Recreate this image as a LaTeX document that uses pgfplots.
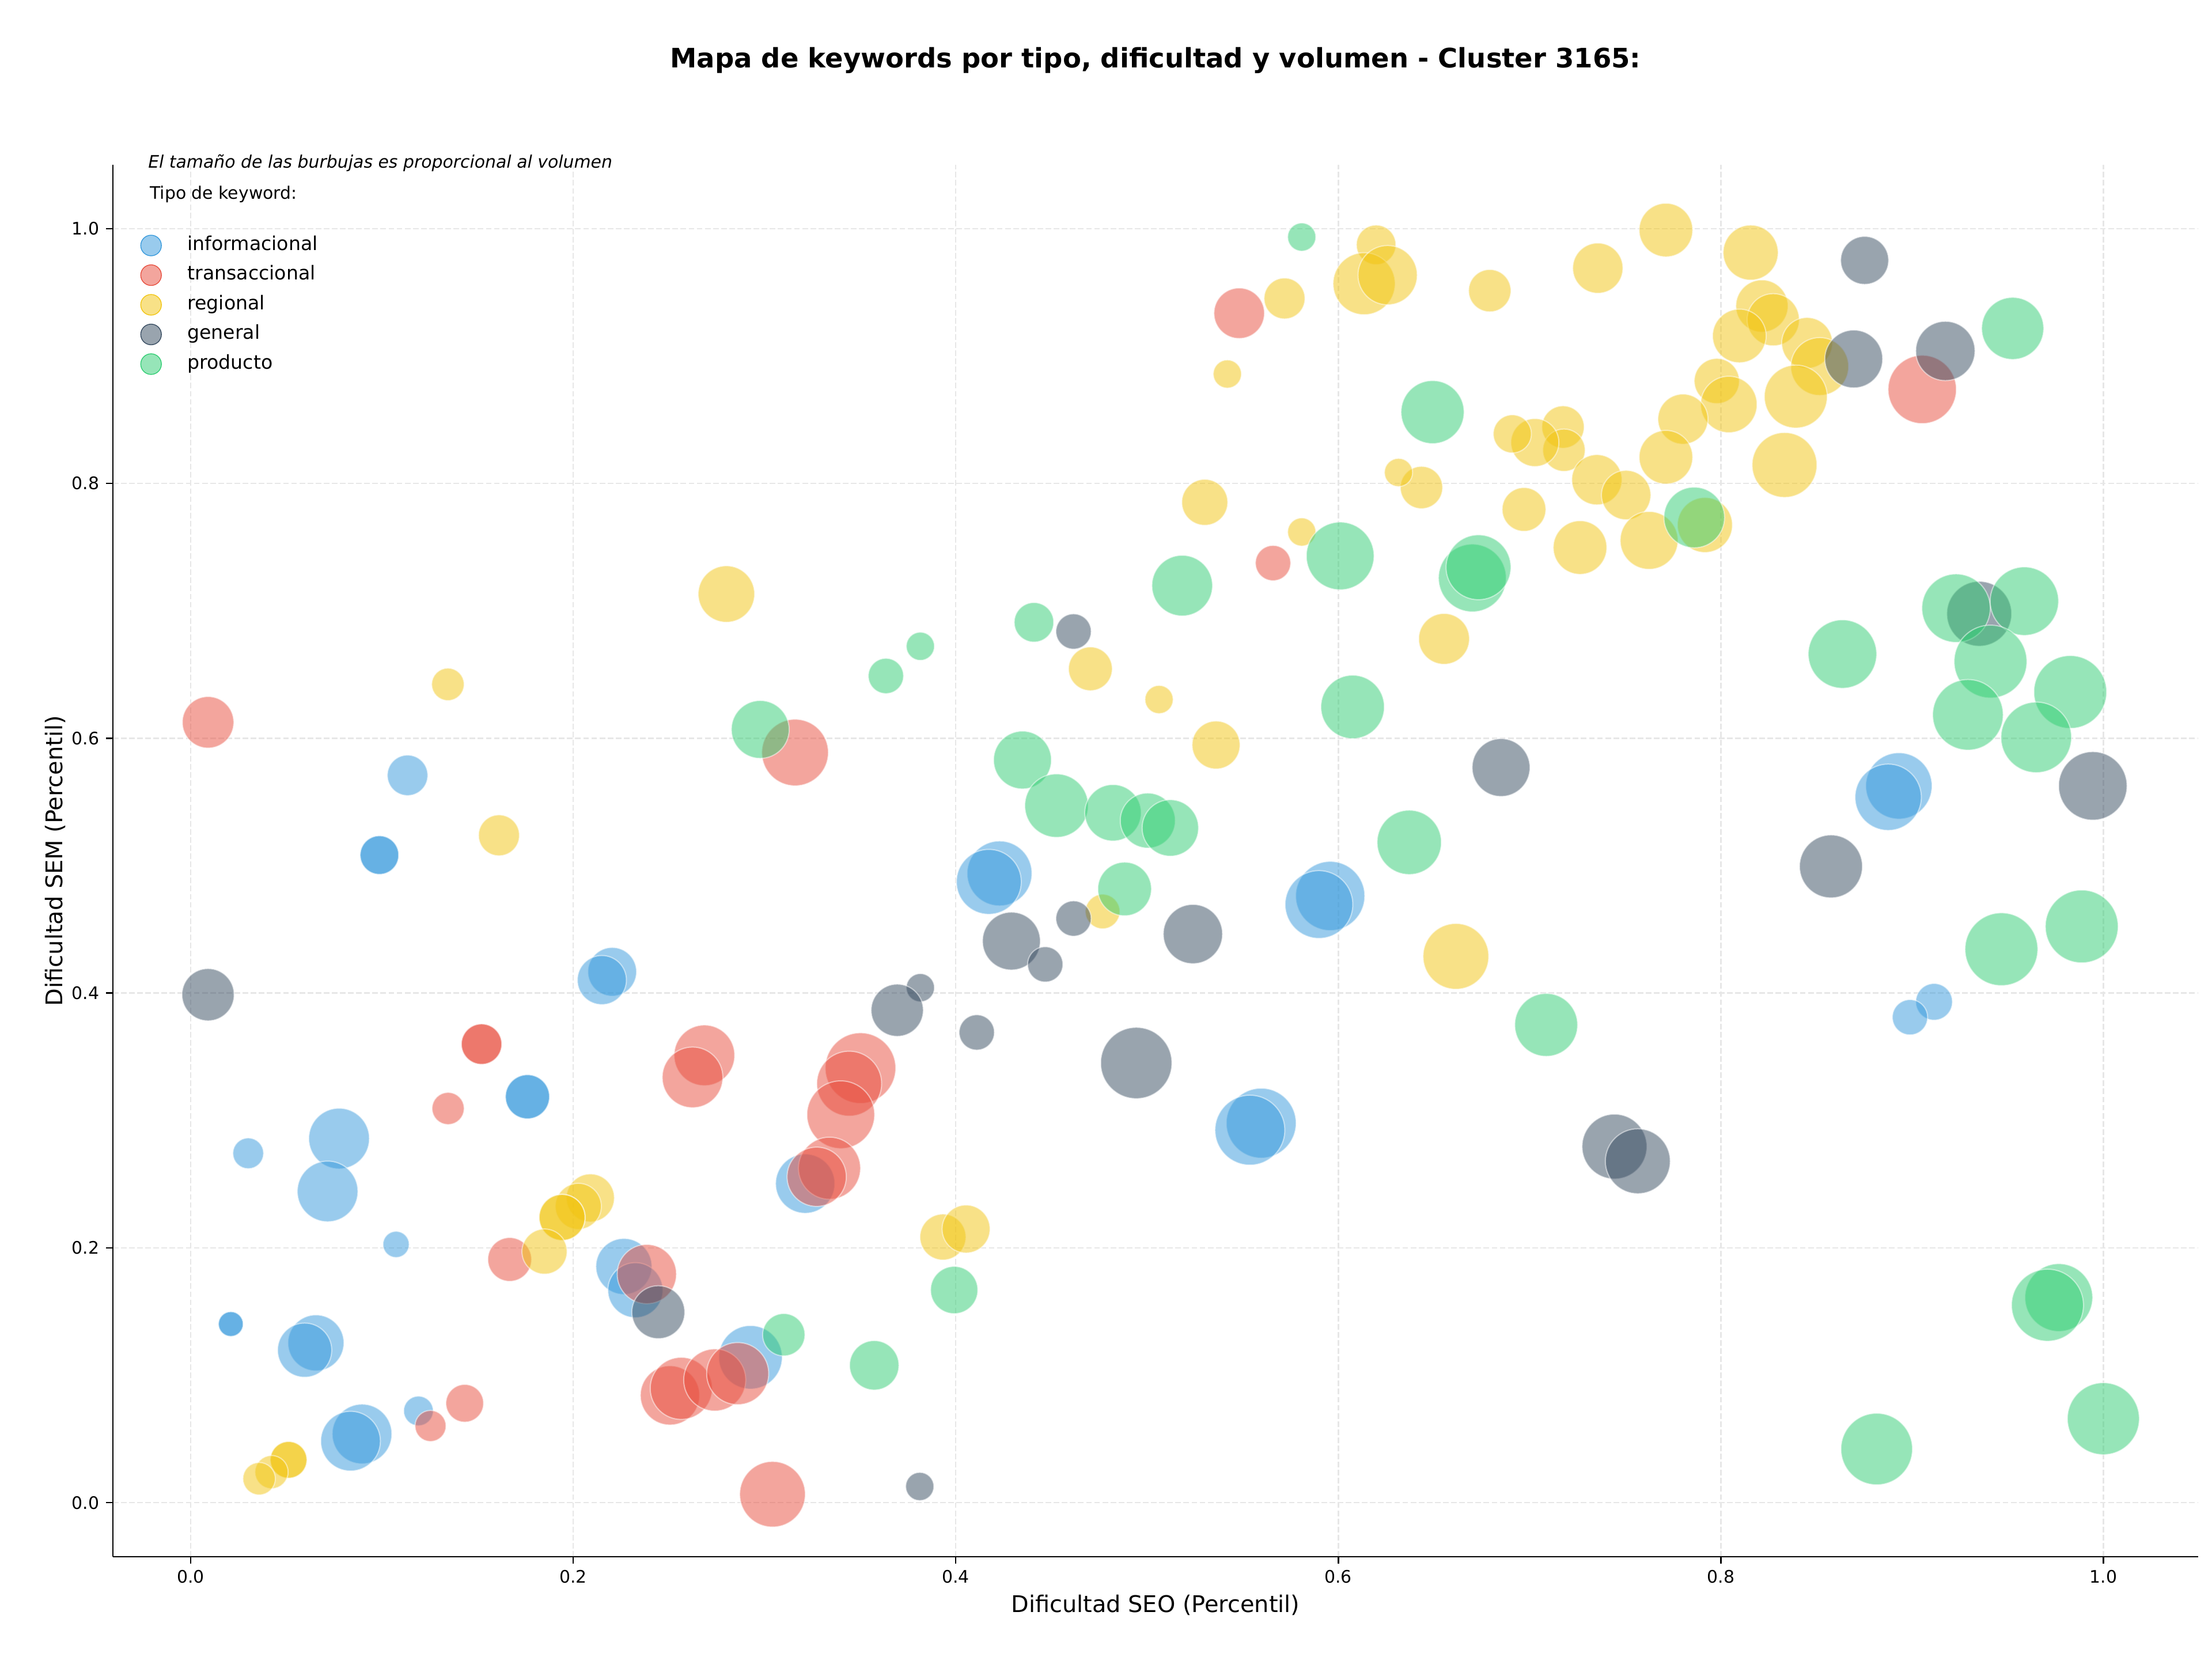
\documentclass[border=0pt]{standalone}
\usepackage{fontspec}
\setmainfont{DejaVu Sans}
\usepackage{pgfplots}
\usepackage{pgfplotstable}
\pgfplotsset{compat=1.18}

\definecolor{cinfo}{HTML}{3498DB}
\definecolor{ctrans}{HTML}{E74C3C}
\definecolor{creg}{HTML}{F1C40F}
\definecolor{cgen}{HTML}{34495E}
\definecolor{cprod}{HTML}{2ECC71}
\definecolor{gridc}{HTML}{E7E7E7}

% x = Dificultad SEO, y = Dificultad SEM, d = bubble diameter (volume scale)
\pgfplotstableread{
x y d
0.1134 0.5709 28.7
0.0987 0.5083 27.4
0.0987 0.5083 27.4
0.1761 0.3186 31.3
0.1761 0.3186 31.3
0.2204 0.4167 34.5
0.2150 0.4102 34.8
0.0301 0.2742 21.8
0.0776 0.2858 43
0.0716 0.2443 43
0.1074 0.2027 18.6
0.0210 0.1402 17.6
0.0210 0.1402 17.6
0.0655 0.1254 39.7
0.0596 0.1197 38.4
0.0896 0.0539 42.3
0.0836 0.0483 42.3
0.1191 0.0720 21
0.2265 0.1854 39.7
0.2325 0.1668 39
0.3213 0.2504 42
0.2927 0.1141 45
0.4229 0.4939 46
0.4173 0.4873 46
0.5958 0.4762 49
0.5899 0.4695 48
0.5597 0.2979 49.5
0.5538 0.2924 49.5
0.8931 0.5626 47
0.8875 0.5537 47
0.9115 0.3931 26
0.8989 0.3810 25
}\datainfo

\pgfplotstableread{
x y d
0.0091 0.6125 36.5
0.3160 0.5888 47.2
0.5482 0.9336 35.8
0.5659 0.7375 25
0.9053 0.8738 48.4
0.1521 0.3599 28.7
0.1521 0.3599 28.7
0.1346 0.3094 22.8
0.1668 0.1909 31
0.1254 0.0602 22
0.1433 0.0780 26.7
0.2686 0.3511 43
0.2624 0.3338 43
0.3502 0.3411 50
0.3443 0.3289 46
0.3399 0.3045 48
0.3340 0.2625 44
0.3273 0.2558 42
0.2385 0.1794 42
0.2506 0.0842 42
0.2565 0.0897 44
0.2740 0.0963 44
0.2860 0.1013 44
0.3042 0.0066 46.5
}\datatrans

\pgfplotstableread{
x y d
0.6198 0.9873 28
0.6135 0.9568 44
0.6258 0.9635 42
0.5719 0.9452 29
0.5420 0.8859 20
0.6792 0.9513 30
0.7357 0.9690 35.6
0.7713 0.9989 38
0.8156 0.9812 39
0.8215 0.9393 37
0.8274 0.9285 37
0.8097 0.9158 38
0.8451 0.9103 36
0.8517 0.8918 41
0.8392 0.8682 44.6
0.8333 0.8145 46
0.7979 0.8804 32
0.8042 0.8620 40
0.7802 0.8505 35.5
0.7713 0.8206 38
0.7175 0.8443 30
0.7180 0.8261 30
0.7028 0.8321 34
0.6910 0.8389 27
0.7352 0.8029 35.6
0.7505 0.7909 35
0.7625 0.7553 41
0.7264 0.7497 38
0.6971 0.7796 31
0.7917 0.7674 39
0.6435 0.7968 30
0.6315 0.8086 20
0.5302 0.7852 32.6
0.5809 0.7619 20
0.6553 0.6780 36
0.4704 0.6545 31
0.5063 0.6304 20
0.5361 0.5947 34
0.4768 0.4640 24.5
0.6615 0.4288 46.6
0.2801 0.7132 40
0.1345 0.6423 23
0.1612 0.5238 29
0.2090 0.2392 34
0.2027 0.2326 32.6
0.1942 0.2239 32.6
0.1942 0.2239 32.6
0.1850 0.1971 32
0.0512 0.0336 26
0.0512 0.0336 26
0.0423 0.0240 23.5
0.0358 0.0188 23
0.3933 0.2085 32.6
0.4054 0.2148 34
}\datareg

\pgfplotstableread{
x y d
0.0091 0.3987 37
0.8752 0.9751 34
0.8695 0.8977 41
0.9174 0.9040 42
0.9351 0.6977 46
0.6851 0.5770 41
0.9945 0.5626 48.5
0.8576 0.4994 44.6
0.4616 0.6838 25
0.4291 0.4408 41
0.4616 0.4585 25
0.4468 0.4225 25
0.5240 0.4463 42
0.3815 0.4042 20
0.3694 0.3865 37
0.4110 0.3691 25
0.4944 0.3451 50.5
0.7444 0.2795 46
0.7566 0.2680 46
0.2445 0.1495 37.5
0.3812 0.0127 20
}\datagen

\pgfplotstableread{
x y d
0.5809 0.9934 20
0.6493 0.8560 44.7
0.7861 0.7733 43
0.6010 0.7431 48
0.6701 0.7258 48
0.6733 0.7342 46
0.5184 0.7198 43
0.4409 0.6910 28
0.3815 0.6722 20
0.3635 0.6489 25
0.2978 0.6069 41
0.6075 0.6246 45
0.4349 0.5829 41
0.4527 0.5471 45
0.4822 0.5415 40
0.5004 0.5354 39
0.5122 0.5296 40
0.4883 0.4817 38
0.6371 0.5183 45.6
0.8636 0.6661 48.5
0.9526 0.9217 44
0.9230 0.7021 48.5
0.9587 0.7076 48.5
0.9410 0.6602 51.6
0.9292 0.6184 50
0.9827 0.6363 51.6
0.9649 0.6007 50
0.9467 0.4344 51.6
0.9887 0.4523 51.6
0.7087 0.3750 44.6
0.9767 0.1610 48
0.9708 0.1550 51
1.0000 0.0659 51
0.8815 0.0421 50.7
0.3992 0.1669 33.5
0.3574 0.1078 35
0.3101 0.1318 30
}\dataprod

% bubble colour is set first, then the per-point radius is appended
\pgfplotsset{
  bubble/.style={
    only marks, scatter, mark=*,
    scatter/use mapped color={draw=white, fill=#1},
    visualization depends on={\thisrow{d} \as \bubd},
    scatter/@pre marker code/.append style={/tikz/mark size=0.3687*\bubd},
    mark options={fill opacity=0.5, draw opacity=0.5, line width=0.6pt},
  },
}

\begin{document}
\begin{tikzpicture}
\useasboundingbox (-0.816in,-0.752in) rectangle (15.184in,11.258in);
\begin{axis}[
  at={(0,0)}, anchor=south west,
  scale only axis, width=15.084in, height=10.065in,
  xmin=-0.0407, xmax=1.0496, ymin=-0.0424, ymax=1.05,
  clip=false,
  axis x line*=bottom, axis y line*=left,
  axis line style={line width=0.8pt, black},
  xtick={0,0.2,0.4,0.6,0.8,1.0}, ytick={0,0.2,0.4,0.6,0.8,1.0},
  tick align=outside, major tick length=3.5pt,
  tick style={line width=0.8pt, black},
  ticklabel style={font=\fontsize{9}{11}\selectfont},
  /pgf/number format/fixed, /pgf/number format/fixed zerofill,
  /pgf/number format/precision=1, /pgf/number format/assume math mode=true,
  grid=major,
  major grid style={gridc, line width=0.8pt, dash pattern=on 2.96pt off 1.28pt},
  xlabel={Dificultad SEO (Percentil)},
  ylabel={Dificultad SEM (Percentil)},
  every axis x label/.style={at={(axis description cs:0.5,-0.0399)}, anchor=base, font=\fontsize{12}{14}\selectfont},
  every axis y label/.style={at={(axis description cs:-0.0240,0.5)}, rotate=90, anchor=base, font=\fontsize{12}{14}\selectfont},
  title={Mapa de keywords por tipo, dificultad y volumen - Cluster 3165:},
  every axis title/.style={at={(axis description cs:0.5,1)}, anchor=base, yshift=50.9pt, font=\bfseries\fontsize{14}{17}\selectfont},
  legend cell align=left,
  legend style={at={(axis description cs:0,1)}, anchor=north west,
    xshift=14.4pt, yshift=-36.5pt, draw=none, fill=none,
    inner sep=0pt, outer sep=0pt, row sep=4.3pt, column sep=13.4pt,
    font=\fontsize{10}{12}\selectfont,
    nodes={inner sep=0pt, text height=7.5pt, text depth=2.5pt}},
]
\addplot[bubble=cinfo,
  legend image code/.code={\fill[cinfo, fill opacity=0.5] (0pt,0pt) circle (5.4pt);}]
  table[x=x, y=y] {\datainfo};
\addlegendentry{informacional}
\addplot[bubble=ctrans,
  legend image code/.code={\fill[ctrans, fill opacity=0.5] (0pt,0pt) circle (5.4pt);}]
  table[x=x, y=y] {\datatrans};
\addlegendentry{transaccional}
\addplot[bubble=creg,
  legend image code/.code={\fill[creg, fill opacity=0.5] (0pt,0pt) circle (5.4pt);}]
  table[x=x, y=y] {\datareg};
\addlegendentry{regional}
\addplot[bubble=cgen,
  legend image code/.code={\fill[cgen, fill opacity=0.5] (0pt,0pt) circle (5.4pt);}]
  table[x=x, y=y] {\datagen};
\addlegendentry{general}
\addplot[bubble=cprod,
  legend image code/.code={\fill[cprod, fill opacity=0.5] (0pt,0pt) circle (5.4pt);}]
  table[x=x, y=y] {\dataprod};
\addlegendentry{producto}

\node[anchor=base west, inner sep=0pt, xshift=18.3pt, yshift=-1.6pt,
  font=\itshape\fontsize{9}{11}\selectfont] at (axis description cs:0,1)
  {El tamaño de las burbujas es proporcional al volumen};
\node[anchor=base west, inner sep=0pt, xshift=19.25pt, yshift=-17.7pt,
  font=\fontsize{9}{11}\selectfont] at (axis description cs:0,1)
  {Tipo de keyword:};
\end{axis}
\end{tikzpicture}
\end{document}
